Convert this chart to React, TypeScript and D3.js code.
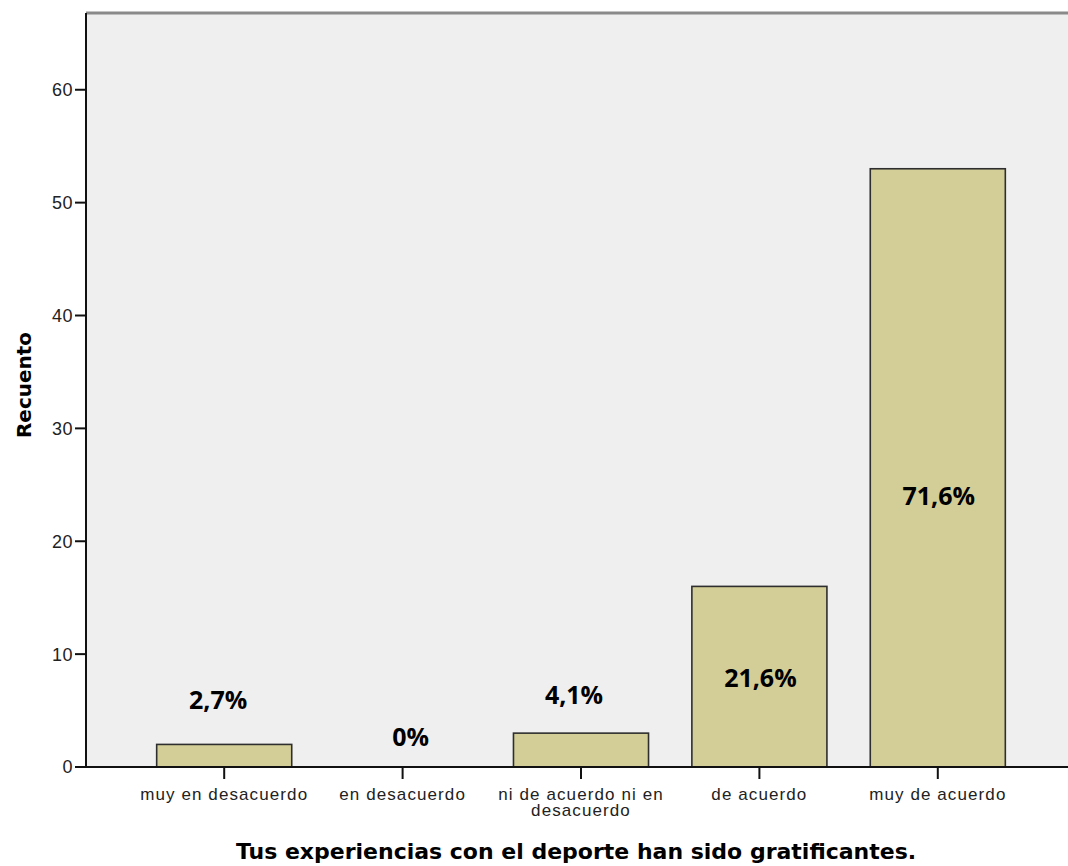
import React from "react";
import * as d3 from "d3";

const categories = [
  "muy en desacuerdo",
  "en desacuerdo",
  "ni de acuerdo ni en desacuerdo",
  "de acuerdo",
  "muy de acuerdo",
];
const categoryLines = [
  ["muy en desacuerdo"],
  ["en desacuerdo"],
  ["ni de acuerdo ni en", "desacuerdo"],
  ["de acuerdo"],
  ["muy de acuerdo"],
];
const counts = [2, 0, 3, 16, 53];
const percentLabels = ["2,7%", "0%", "4,1%", "21,6%", "71,6%"];
const yTicks = [0, 10, 20, 30, 40, 50, 60];
// hand-placed annotation anchors (baseline in count units, x nudge in px)
const labelAt = [5.15, 1.85, 5.6, 7.1, 23.2];
const labelNudge = [-6, 8, -7, 1, 1];

const xTitle = "Tus experiencias con el deporte han sido gratificantes.";
const yTitle = "Recuento";

const W = 1068;
const H = 866;
const plotLeft = 86;
const plotTop = 13;
const plotBottom = 767;
const plotRight = 1080;

export default function App() {
  const y = d3.scaleLinear().domain([0, 66.8]).range([plotBottom, plotTop]);
  const x = d3
    .scaleBand<string>()
    .domain(categories)
    .range([135, 1027])
    .paddingInner(0.243)
    .paddingOuter(0.1215);
  const bw = x.bandwidth();
  const sans = "'Liberation Sans', Arial, sans-serif";

  return (
    <svg
      width={W}
      height={H}
      style={{ position: "absolute", left: 0, top: 0, background: "#fff" }}
    >
      <rect
        x={plotLeft}
        y={plotTop}
        width={plotRight - plotLeft}
        height={plotBottom - plotTop}
        fill="#efefef"
      />
      <line x1={plotLeft} x2={plotRight} y1={plotTop} y2={plotTop} stroke="#8a8a8a" strokeWidth={3} />
      {categories.map((c, i) =>
        counts[i] > 0 ? (
          <rect
            key={c}
            x={x(c)!}
            y={y(counts[i])}
            width={bw}
            height={y(0) - y(counts[i])}
            fill="#d3ce97"
            stroke="#2e2e2e"
            strokeWidth={1.6}
          />
        ) : null
      )}
      <line x1={plotLeft} x2={plotLeft} y1={plotTop} y2={plotBottom} stroke="#111" strokeWidth={2} />
      <line x1={plotLeft} x2={plotRight} y1={plotBottom} y2={plotBottom} stroke="#111" strokeWidth={2} />
      {yTicks.map((t) => (
        <g key={t}>
          <line x1={plotLeft - 11} x2={plotLeft} y1={y(t)} y2={y(t)} stroke="#111" strokeWidth={2} />
          <text
            x={plotLeft - 13}
            y={y(t)}
            dy="0.36em"
            textAnchor="end"
            fontFamily={sans}
            fontSize={18}
            letterSpacing={0.5}
            fill="#222"
          >
            {t}
          </text>
        </g>
      ))}
      {categories.map((c, i) => {
        const cx = x(c)! + bw / 2;
        return (
          <g key={"t" + c}>
            <line x1={cx} x2={cx} y1={plotBottom} y2={plotBottom + 12} stroke="#111" strokeWidth={2} />
            <text
              x={cx}
              y={800}
              textAnchor="middle"
              fontFamily={sans}
              fontSize={17}
              letterSpacing={1.1}
              fill="#222"
            >
              {categoryLines[i].map((ln, k) => (
                <tspan key={k} x={cx} dy={k === 0 ? 0 : 15.5}>
                  {ln}
                </tspan>
              ))}
            </text>
          </g>
        );
      })}
      {categories.map((c, i) => (
        <text
          key={"p" + c}
          x={x(c)! + bw / 2 + labelNudge[i]}
          y={y(labelAt[i])}
          textAnchor="middle"
          fontFamily="'Open Sans', sans-serif"
          fontWeight={700}
          fontSize={25}
          fill="#000"
        >
          {percentLabels[i]}
        </text>
      ))}
      <text
        x={576}
        y={859}
        textAnchor="middle"
        fontFamily="'DejaVu Sans', sans-serif"
        fontWeight={700}
        fontSize={22}
        fill="#000"
      >
        {xTitle}
      </text>
      <text
        transform={`translate(31, 385) rotate(-90)`}
        textAnchor="middle"
        fontFamily="'DejaVu Sans', sans-serif"
        fontWeight={700}
        fontSize={20}
        fill="#000"
      >
        {yTitle}
      </text>
    </svg>
  );
}
